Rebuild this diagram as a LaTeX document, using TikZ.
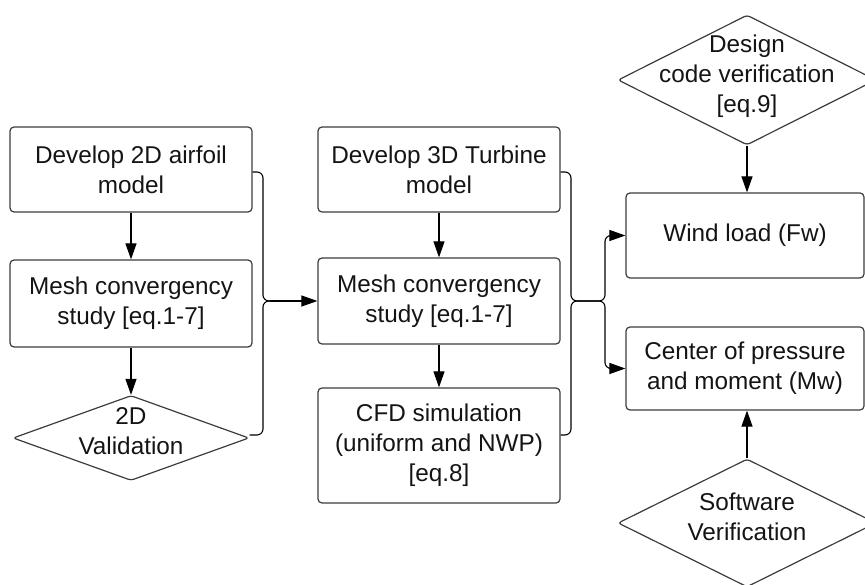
\documentclass[tikz,border=0pt]{standalone}
\usepackage{fontspec}
\setmainfont{Liberation Sans}
\usetikzlibrary{arrows.meta,shapes.geometric}
\definecolor{bordc}{RGB}{60,60,60}
\definecolor{txtc}{RGB}{20,20,20}
\newcommand\dtext[1]{\makebox[0pt]{\smash{\begin{tabular}{@{}c@{}}#1\end{tabular}}}}
\tikzset{
  box/.style={draw=bordc, line width=1.2pt, rounded corners=4pt, minimum width=242pt,
    align=center, inner sep=0pt, text=txtc, font=\fontsize{24.3}{30}\selectfont},
  dia/.style={draw=bordc, line width=1.2pt, diamond, rounded corners=3pt, inner sep=0pt,
    text=txtc, font=\fontsize{24.3}{30}\selectfont},
  arr/.style={-{Triangle[length=16pt,width=11pt]}, line width=1.1pt, black},
  bracearm/.style={line width=1.1pt, black, rounded corners=6pt},
}
\begin{document}
\begin{tikzpicture}[x=1pt,y=-1pt]
\useasboundingbox (0,0) rectangle (865,585);
% column 1
\node[box, minimum height=85pt] (a1) at (131,169.5) {Develop 2D airfoil\\model};
\node[box, minimum height=87pt] (a2) at (131,303.5) {Mesh convergency\\study [eq.1-7]};
\node[dia, minimum width=236pt, minimum height=85pt] (a3) at (131,438) {\raisebox{-3pt}{\dtext{2D\\Validation}}};
% column 2
\node[box, minimum height=85pt] (b1) at (439,169.5) {Develop 3D Turbine\\model};
\node[box, minimum height=86pt] (b2) at (439,301) {Mesh convergency\\study [eq.1-7]};
\node[box, minimum height=115pt] (b3) at (439,445.5) {CFD simulation\\(uniform and NWP)\\{}[eq.8]};
% column 3
\node[dia, minimum width=258pt, minimum height=130pt] (c0) at (747,80) {\raisebox{-5pt}{\dtext{Design\\code verification\\{}[eq.9]}}};
\node[box, minimum width=238pt, minimum height=85pt] (c1) at (745,235.5) {Wind load (Fw)};
\node[box, minimum width=238pt, minimum height=83pt] (c2) at (745,368.5) {Center of pressure\\and moment (Mw)};
\node[dia, minimum width=258pt, minimum height=128pt] (c3) at (747,523) {\raisebox{-5pt}{\dtext{Software\\Verification}}};
% vertical arrows
\draw[arr] (a1.south) -- (a2.north);
\draw[arr] (a2.south) -- (a3.north);
\draw[arr] (b1.south) -- (b2.north);
\draw[arr] (b2.south) -- (b3.north);
\draw[arr] (c0.south) -- (c0.south |- c1.north);
\draw[arr] (c3.north) -- (c3.north |- c2.south);
% bracket 1
\coordinate (m1) at (270,301);
\draw[bracearm] ([yshift=-2.5pt]a1.east) -| ([xshift=-7pt]m1) -- (m1);
\draw[bracearm] ([yshift=3pt]a3.east) -| ([xshift=-7pt]m1) -- (m1);
\draw[arr] (m1) -- (b2.west);
% bracket 2
\coordinate (m2) at (580,301);
\coordinate (s2) at (605,301);
\draw[bracearm] ([yshift=-2.5pt]b1.east) -| ([xshift=-9pt]m2) -- (m2);
\draw[bracearm] ([yshift=10.5pt]b3.east) -| ([xshift=-9pt]m2) -- (m2);
\draw[arr, rounded corners=6pt] (m2) -- (s2) |- (c1.west);
\draw[arr, rounded corners=6pt] (m2) -- (s2) |- (c2.west);
\end{tikzpicture}
\end{document}
